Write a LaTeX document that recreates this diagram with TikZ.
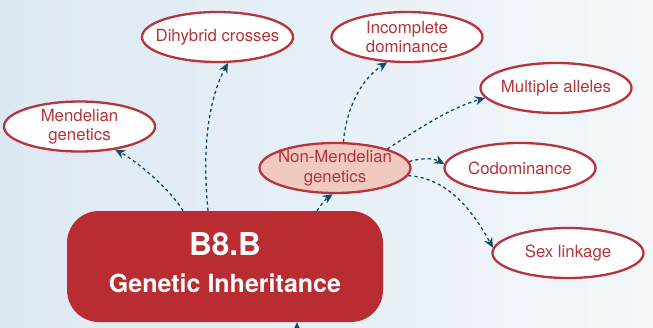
\documentclass[tikz,border=0pt]{standalone}
\usepackage{fontspec}
\setmainfont{TeX Gyre Heros}
\usetikzlibrary{arrows.meta,shapes.geometric}
\definecolor{bgleft}{HTML}{DCE8F3}
\definecolor{bgright}{HTML}{F3F7FA}
\definecolor{topicred}{HTML}{B92C31}
\definecolor{edgered}{HTML}{B8343A}
\definecolor{textred}{HTML}{B5343A}
\definecolor{pinkfill}{HTML}{F0C9C0}
\definecolor{linkblue}{HTML}{124A6C}
\tikzset{
  topic/.style={ellipse, draw=edgered, line width=2.3pt, fill=white,
    minimum width=151pt, minimum height=50pt, inner xsep=-20pt, inner ysep=-8pt,
    text=textred, font=\fontsize{16.8}{19.5}\selectfont, align=center},
  hub/.style={topic, fill=pinkfill},
  mainbox/.style={rectangle, rounded corners=32pt, fill=topicred,
    minimum width=316pt, minimum height=111pt, inner sep=0pt},
  link/.style={draw=linkblue, line width=1.3pt, dash pattern=on 3.2pt off 3pt,
    -{Stealth[length=10pt,width=9pt]}}
}
\begin{document}
\begin{tikzpicture}[x=1pt,y=-1pt]
  % background
  \shade[left color=bgleft, right color=bgright] (0,0) rectangle (653,327);
  \useasboundingbox (0,0) rectangle (653,327);

  % central topic
  \node[mainbox] (main) at (225,266.5) {};
  \node[text=white, font=\bfseries\fontsize{31.5}{34}\selectfont] (code) at (225,244) {B8.B};
  \node[text=white, font=\bfseries\fontsize{25}{28}\selectfont] (title) at (225,283.5) {Genetic Inheritance};

  % sub-topics
  \node[topic] (ml) at (79.5,126.5) {Mendelian\\genetics};
  \node[topic] (dh) at (217.5,37) {Dihybrid crosses};
  \node[hub]   (nm) at (335,168) {Non-Mendelian\\genetics};
  \node[topic] (inc) at (407,37) {Incomplete\\dominance};
  \node[topic] (ma) at (556,88) {Multiple alleles};
  \node[topic] (co) at (520,168) {Codominance};
  \node[topic] (sl) at (568,253) {Sex linkage};

  % connectors from the central topic
  \coordinate (mlstart) at ([xshift=-42pt]main.north);
  \coordinate (dhstart) at ([xshift=-17pt]main.north);
  \coordinate (nmstart) at ([xshift=92pt]main.north);
  \coordinate (below) at (297,345);
  \draw[link] (mlstart) .. controls (172,192) and (140,163) .. (ml.-33);
  \draw[link] (dhstart) .. controls (202,150) and (208,100) .. (dh.-68);
  \draw[link] (nmstart) .. controls (322,203) and (327,198) .. (nm.-95);
  \draw[link] (below) -- ([xshift=72pt]main.south);

  % connectors from the hub
  \draw[link] (nm.72) .. controls (346,110) and (360,80) .. (inc.-128);
  \draw[link] (nm.20) .. controls (420,128) and (450,108) .. (ma.-172);
  \draw[link] (nm.5) .. controls (425,157) and (435,159) .. (co.177);
  \draw[link] (nm.-6) .. controls (450,178) and (475,215) .. (sl.176);
\end{tikzpicture}
\end{document}
